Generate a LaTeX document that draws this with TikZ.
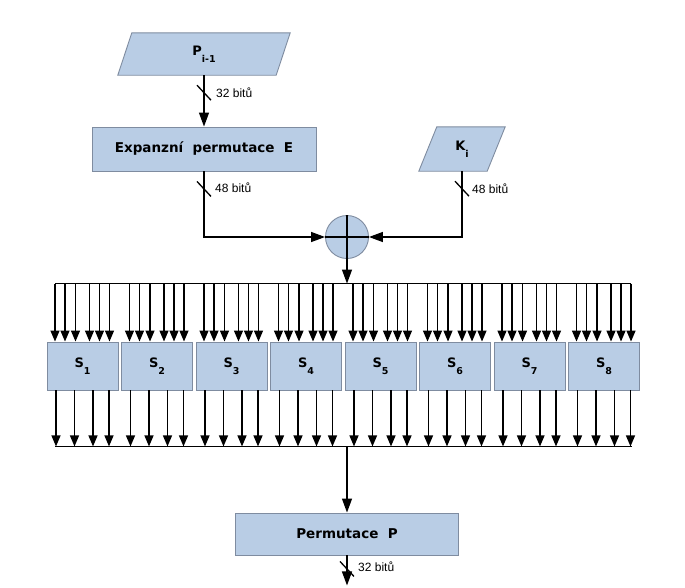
\documentclass[tikz,border=0pt]{standalone}
\usepackage{fontspec}
\setmainfont{DejaVu Sans}
\newfontfamily\bitfont{Liberation Sans}
\usepackage{xcolor}
\usetikzlibrary{calc,positioning,arrows.meta,backgrounds}
\definecolor{boxfill}{HTML}{B9CDE5}
\definecolor{boxline}{HTML}{7F8CA0}
\newcommand{\lowsub}[1]{\raisebox{-7pt}{\fontsize{9.5}{10}\selectfont #1}}

\begin{document}
\begin{tikzpicture}[x=1pt, y=-1pt]
\tikzstyle{blk}=[draw=boxline, fill=boxfill, line width=.9pt, inner sep=0pt, font=\fontsize{13.5}{15}\selectfont\bfseries]
\tikzstyle{io}=[inner sep=0pt, font=\fontsize{13}{15}\selectfont\bfseries]
\tikzstyle{wire}=[line width=1.3pt]
\tikzstyle{arr}=[wire, -{Triangle[length=14pt, width=10pt]}]
\tikzstyle{sarr}=[wire, -{Triangle[length=11pt, width=9pt]}]
\tikzstyle{bits}=[anchor=west, inner sep=0pt, font=\bitfont\fontsize{12}{14}\selectfont]

\useasboundingbox (0,0) rectangle (685,587);

% vstupy
\node[io, minimum width=158, minimum height=42] (P) at (204,54) {P\lowsub{i-1}};
\node[io, minimum width=68, minimum height=44] (K) at (462,149) {K\lowsub{i}};
\begin{scope}[on background layer]
\draw[blk] ($(P.north west)+(7,0)$) -- ($(P.north east)+(7,0)$) -- ($(P.south east)+(-7,0)$) -- ($(P.south west)+(-7,0)$) -- cycle;
\draw[blk] ($(K.north west)+(9,0)$) -- ($(K.north east)+(9,0)$) -- ($(K.south east)+(-9,0)$) -- ($(K.south west)+(-9,0)$) -- cycle;
\end{scope}

\node[blk, minimum width=224, minimum height=44] (E) at (204,149) {Expanzní~~permutace~~E};
\node[blk, circle, minimum size=43] (X) at (347,237) {};
\draw[wire] (X.north) -- (X.south) (X.west) -- (X.east);

\draw[arr] (P.south) -- (E.north);
\draw[wire] ($(P.south)+(-7,10)$) -- ($(P.south)+(7,25)$);
\node[bits] (b1) at (216,93) {32 bitů};

\draw[arr] (E.south) |- (X.west);
\draw[wire] ($(E.south)+(-7,10)$) -- ($(E.south)+(7,25)$);
\node[bits] (b2) at (215,188) {48 bitů};

\draw[arr] (K.south) |- (X.east);
\draw[wire] ($(K.south)+(-7,10)$) -- ($(K.south)+(7,25)$);
\node[bits] (b3) at (472,189) {48 bitů};

% S-boxy
\foreach \k in {1,...,8}{
  \node[blk, font=\fontsize{13}{15}\selectfont\bfseries, minimum width=71, minimum height=48] (S\k) at ({82.5+74.5*(\k-1)},366) {S\lowsub{\k}};
  \foreach \d in {-27.5,-17.5,-7,7,17,27}
    \draw[sarr] ($(S\k.north)+(\d,-58)$) -- ($(S\k.north)+(\d,0)$);
  \foreach \d in {-26.5,-8,10.5,26.5}
    \draw[sarr] ($(S\k.south)+(\d,0)$) -- ($(S\k.south)+(\d,56)$);
}
\coordinate (tb) at ($(S1.north)+(-27.5,-58)$);
\coordinate (te) at ($(S8.north)+(27,-58)$);
\draw[wire] (tb) -- (te);
\draw[arr] (X.south) -- (X.south |- tb);

\coordinate (bb) at ($(S1.south)+(-27.5,56)$);
\coordinate (be) at ($(S8.south)+(28,56)$);
\draw[wire] (bb) -- (be);

\node[blk, minimum width=223, minimum height=42] (PP) at (347,534) {Permutace~~P};
\draw[arr] (bb -| PP) -- (PP.north);

\coordinate (out) at ($(PP.south)+(0,30)$);
\draw[arr] (PP.south) -- (out);
\draw[wire] ($(PP.south)+(-7,6)$) -- ($(PP.south)+(7,21)$);
\node[bits] (b4) at (358,567) {32 bitů};
\end{tikzpicture}
\end{document}
